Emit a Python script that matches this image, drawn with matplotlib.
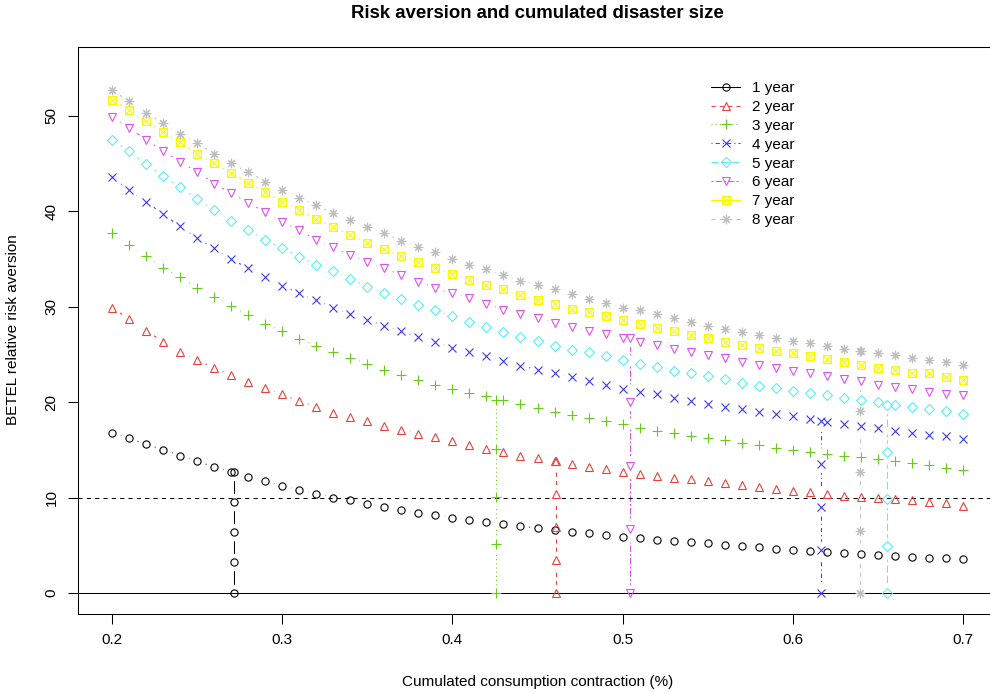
import numpy as np
import matplotlib.pyplot as plt
from matplotlib.path import Path
from matplotlib.lines import Line2D

plt.rcParams['font.family'] = ['Liberation Sans', 'DejaVu Sans']

# consumption contraction grid (0.20 .. 0.70 by 0.01)
contraction = np.linspace(0.2, 0.7, 51)

# BETEL relative risk aversion
year1 = [16.8, 16.2, 15.6, 15.0, 14.4, 13.8, 13.2, 12.7, 12.2, 11.7, 11.2,
         10.8, 10.4, 10.0, 9.7, 9.3, 9.0, 8.7, 8.4, 8.2, 7.9,
         7.7, 7.4, 7.2, 7.0, 6.8, 6.6, 6.4, 6.3, 6.1, 5.9,
         5.8, 5.6, 5.5, 5.3, 5.2, 5.0, 4.9, 4.8, 4.6, 4.5,
         4.4, 4.3, 4.2, 4.1, 4.0, 3.9, 3.8, 3.7, 3.7, 3.6]
year2 = [29.9, 28.7, 27.5, 26.3, 25.3, 24.4, 23.6, 22.8, 22.1, 21.5, 20.8,
         20.1, 19.5, 18.9, 18.4, 18.0, 17.5, 17.1, 16.7, 16.3, 15.9,
         15.5, 15.1, 14.8, 14.4, 14.1, 13.8, 13.5, 13.2, 13.0, 12.7,
         12.5, 12.3, 12.1, 11.9, 11.7, 11.5, 11.3, 11.1, 10.9, 10.7,
         10.6, 10.4, 10.2, 10.1, 10.0, 9.9, 9.7, 9.5, 9.4, 9.1]
year3 = [37.7, 36.5, 35.3, 34.1, 33.1, 32.0, 31.0, 30.1, 29.1, 28.2, 27.4,
         26.6, 25.9, 25.2, 24.6, 24.0, 23.4, 22.8, 22.3, 21.8, 21.4,
         21.0, 20.6, 20.2, 19.8, 19.4, 19.0, 18.7, 18.3, 18.0, 17.7,
         17.3, 17.0, 16.8, 16.5, 16.2, 16.0, 15.7, 15.5, 15.2, 15.0,
         14.8, 14.6, 14.4, 14.3, 14.0, 13.8, 13.6, 13.4, 13.1, 12.9]
year4 = [43.6, 42.2, 41.0, 39.7, 38.4, 37.2, 36.1, 35.0, 34.0, 33.1, 32.2,
         31.4, 30.7, 29.9, 29.2, 28.6, 28.0, 27.4, 26.8, 26.3, 25.7,
         25.2, 24.8, 24.3, 23.8, 23.4, 23.0, 22.6, 22.2, 21.8, 21.4,
         21.1, 20.8, 20.4, 20.1, 19.8, 19.5, 19.3, 19.0, 18.8, 18.5,
         18.2, 17.9, 17.7, 17.5, 17.3, 17.0, 16.8, 16.6, 16.4, 16.1]
year5 = [47.5, 46.3, 44.9, 43.7, 42.5, 41.3, 40.1, 39.0, 38.0, 37.0, 36.1,
         35.2, 34.4, 33.7, 32.9, 32.1, 31.4, 30.8, 30.2, 29.6, 29.0,
         28.4, 27.9, 27.3, 26.8, 26.4, 25.9, 25.5, 25.2, 24.8, 24.4,
         24.0, 23.7, 23.3, 23.0, 22.7, 22.4, 22.0, 21.7, 21.5, 21.2,
         21.0, 20.7, 20.4, 20.2, 20.0, 19.7, 19.5, 19.3, 19.1, 18.8]
year6 = [49.9, 48.7, 47.5, 46.3, 45.2, 44.1, 42.9, 41.9, 40.9, 39.9, 38.9,
         38.0, 37.0, 36.2, 35.4, 34.7, 34.0, 33.3, 32.6, 32.0, 31.4,
         30.9, 30.3, 29.7, 29.2, 28.8, 28.3, 27.9, 27.5, 27.1, 26.7,
         26.3, 26.0, 25.6, 25.2, 24.9, 24.6, 24.2, 23.9, 23.6, 23.3,
         23.0, 22.7, 22.4, 22.2, 21.8, 21.6, 21.4, 21.1, 20.9, 20.7]
year7 = [51.7, 50.6, 49.4, 48.3, 47.2, 46.0, 45.0, 44.0, 43.0, 42.0, 41.0,
         40.1, 39.2, 38.3, 37.5, 36.7, 36.0, 35.3, 34.7, 34.0, 33.4,
         32.8, 32.3, 31.8, 31.2, 30.7, 30.3, 29.8, 29.4, 29.0, 28.6,
         28.2, 27.8, 27.4, 27.0, 26.7, 26.3, 26.0, 25.7, 25.4, 25.1,
         24.8, 24.5, 24.2, 23.9, 23.6, 23.4, 23.1, 23.0, 22.6, 22.3]
year8 = [52.7, 51.5, 50.3, 49.2, 48.1, 47.1, 46.0, 45.0, 44.1, 43.1, 42.2,
         41.4, 40.6, 39.8, 39.1, 38.3, 37.7, 36.9, 36.3, 35.7, 35.0,
         34.4, 33.9, 33.3, 32.7, 32.3, 31.8, 31.3, 30.8, 30.4, 29.9,
         29.6, 29.2, 28.8, 28.4, 28.0, 27.7, 27.3, 27.0, 26.7, 26.4,
         26.2, 25.9, 25.6, 25.4, 25.1, 24.9, 24.6, 24.4, 24.2, 23.9]

series = [year1, year2, year3, year4, year5, year6, year7, year8]
labels = ['1 year', '2 year', '3 year', '4 year', '5 year', '6 year', '7 year', '8 year']

# vertical drops: x position and the five points on each (7 year falls outside the plot)
drop_x = [0.2715, 0.4607, 0.4258, 0.6167, 0.6555, 0.5043, None, 0.6397]
drop_y = [[0, 3.2, 6.35, 9.5, 12.7],
          [0, 3.45, 6.9, 10.35, 13.8],
          [0, 5.1, 10.1, 15.1, 20.2],
          [0, 4.5, 9.0, 13.5, 18.0],
          [0, 4.9, 9.9, 14.8, 19.7],
          [0, 6.7, 13.3, 20.0, 26.7],
          None,
          [0, 6.5, 12.7, 19.1, 25.4]]

colors = ['#000000', '#E8413A', '#66CC1A', '#3B3BF2', '#55F0F0', '#E050F2', '#F8F800', '#BEBEBE']
styles = ['-', (0, (4, 4)), (0, (1, 3)), (0, (1, 3, 4, 3)), (0, (7, 3)), (0, (2, 2, 6, 2)),
          '-', (0, (4, 4))]

# R pch 7: square with a cross inside
box_x = Path([(-1, -1), (1, -1), (1, 1), (-1, 1), (-1, -1), (-1, -1), (1, 1), (-1, 1), (1, -1)],
             [Path.MOVETO, Path.LINETO, Path.LINETO, Path.LINETO, Path.CLOSEPOLY,
              Path.MOVETO, Path.LINETO, Path.MOVETO, Path.LINETO])
markers = ['o', '^', '+', 'x', 'D', 'v', box_x, (8, 2, 0)]
msizes = [5.2, 6.3, 6.8, 5.2, 5.4, 6.3, 5.6, 6.8]

fig = plt.figure(figsize=(9.9, 6.93), dpi=100)
ax = fig.add_axes([78 / 990, 1 - 614 / 693, 919 / 990, 567 / 693])

for i, vals in enumerate(series):
    pieces = [(contraction, vals)]
    if drop_x[i] is not None:
        pieces.append(([drop_x[i]] * len(drop_y[i]), drop_y[i]))
    for xs, ys in pieces:
        # line, white gap round each point (like R type="b"), then the symbol
        ax.plot(xs, ys, color=colors[i], ls=styles[i], lw=0.75, zorder=1)
        ax.plot(xs, ys, ls='none', marker='o', ms=12.5, mfc='white', mec='none', zorder=2)
        ax.plot(xs, ys, ls='none', marker=markers[i], ms=msizes[i], mfc='none',
                mec=colors[i], mew=0.8, zorder=3)

ax.axhline(0, color='black', lw=0.75, zorder=2.5)
ax.axhline(10, color='black', lw=0.75, ls=(0, (4, 4)), zorder=2.5)

ax.set_xlim(0.18, 0.72)
ax.set_ylim(-2.2, 57.2)
ax.set_xticks([0.2, 0.3, 0.4, 0.5, 0.6, 0.7])
ax.set_xticklabels(['0.2', '0.3', '0.4', '0.5', '0.6', '0.7'])
ax.set_yticks([0, 10, 20, 30, 40, 50])
ax.tick_params(direction='out', length=7, width=0.75, labelsize=11, pad=7)
for lab in ax.get_yticklabels():
    lab.set_rotation(90)
    lab.set_va('center')
for sp in ax.spines.values():
    sp.set_linewidth(0.75)

handles = [Line2D([], [], color=colors[i], ls=styles[i], lw=0.75, marker=markers[i],
                  ms=msizes[i], mfc='none', mec=colors[i], mew=0.8) for i in range(8)]
fig.legend(handles, labels, loc='upper left', bbox_to_anchor=(711 / 990, 1 - 81 / 693),
           frameon=False, fontsize=11, handlelength=1.9, handletextpad=0.8,
           labelspacing=0.32, borderpad=0, borderaxespad=0)

fig.text(537 / 990, 1 - 13 / 693, 'Risk aversion and cumulated disaster size',
         ha='center', va='center', fontsize=13.4, fontweight='bold')
fig.text(538 / 990, 1 - 682 / 693, 'Cumulated consumption contraction (%)',
         ha='center', va='center', fontsize=11)
fig.text(13 / 990, 1 - 330 / 693, 'BETEL relative risk aversion',
         ha='center', va='center', rotation=90, fontsize=11)

fig.savefig('out.png', dpi=100)
